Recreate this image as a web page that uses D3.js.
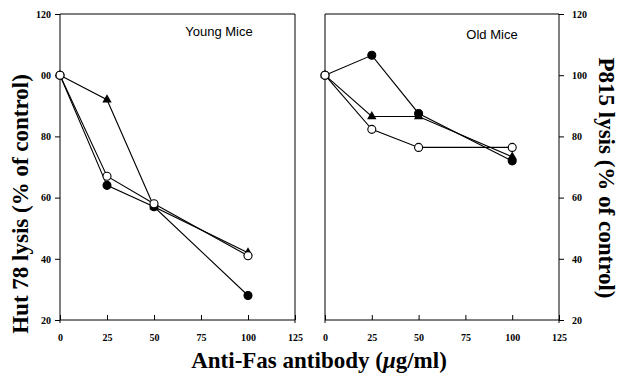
<!DOCTYPE html>
<html><head><meta charset="utf-8">
<script src="https://cdn.jsdelivr.net/npm/d3@7"></script>
<style>
body{margin:0;background:#fff}
.serif{font-family:"Liberation Serif","Times New Roman",Times,"DejaVu Serif",serif;font-weight:bold}
.sans{font-family:"Liberation Sans",Arial,Helvetica,sans-serif}
</style>
</head><body>
<svg id="c" width="627" height="375"></svg>
<script>
const doses = [0, 25, 50, 100];
const youngFilled = [100, 64, 57, 28];
const youngTriangle = [100, 92, 57, 42];
const youngOpen = [100, 67, 58, 41];
const oldFilled = [100, 106.5, 87.5, 72];
const oldTriangle = [100, 86.5, 86.5, 73.3];
const oldOpen = [100, 82.3, 76.4, 76.4];
const xTicks = [0, 25, 50, 75, 100, 125];
const yTicks = [20, 40, 60, 80, 100, 120];
const leftYLabels = ["20", "40", "60", "80", "00", "120"];
const rightYLabels = ["20", "40", "60", "80", "100", "120"];

const svg = d3.select("#c");
const y = d3.scaleLinear().domain([20, 120]).range([320, 14]);
const xL = d3.scaleLinear().domain([0, 125]).range([60, 295]);
const xR = d3.scaleLinear().domain([0, 125]).range([325, 559]);

function panel(x, side, yLabels, series, title, titlePos) {
  const g = svg.append("g");
  const x0 = x.range()[0], x1 = x.range()[1];
  g.append("line").attr("x1", x0).attr("x2", x1).attr("y1", 14).attr("y2", 14).attr("stroke", "#000");
  const frameX = side === "left" ? x1 : x0;
  g.append("line").attr("x1", frameX).attr("x2", frameX).attr("y1", 14).attr("y2", 323).attr("stroke", "#000");
  const xa = g.append("g").attr("transform", "translate(0,320)")
    .call(d3.axisBottom(x).tickValues(xTicks).tickSize(-5).tickPadding(14).tickFormat(d3.format("d")));
  xa.select(".domain").attr("d", `M${x0},0H${x1}`);
  xa.selectAll("text").attr("class", "serif").attr("font-family", null).attr("font-size", 10).attr("fill", "#000");
  xa.selectAll("line").attr("stroke", "#000");
  const axisFn = side === "left" ? d3.axisLeft(y) : d3.axisRight(y);
  const ya = g.append("g").attr("transform", `translate(${side === "left" ? x0 : x1},0)`)
    .call(axisFn.tickValues(yTicks).tickSize(5).tickPadding(side === "left" ? 4 : 8).tickFormat((d, i) => yLabels[i]));
  ya.select(".domain").attr("d", `M0,14V323`);
  ya.selectAll("text").attr("class", "serif").attr("font-size", 10).attr("fill", "#000");
  ya.selectAll("line").attr("stroke", "#000");
  ya.attr("font-family", null); xa.attr("font-family", null);
  const line = d3.line().x((d, i) => x(doses[i])).y(d => y(d));
  series.forEach(s => {
    g.append("path").attr("d", line(s.values)).attr("fill", "none").attr("stroke", "#000").attr("stroke-width", 1.1);
  });
  series.forEach(s => {
    const pts = g.selectAll(null).data(s.values).enter();
    if (s.type === "triangle") {
      pts.append("path").attr("d", d3.symbol(d3.symbolTriangle, 38))
        .attr("transform", (d, i) => `translate(${x(doses[i])},${y(d)})`).attr("fill", "#000");
    } else {
      pts.append("circle").attr("cx", (d, i) => x(doses[i])).attr("cy", d => y(d)).attr("r", 4)
        .attr("fill", s.type === "filled" ? "#000" : "#fff").attr("stroke", "#000").attr("stroke-width", 1.1);
    }
  });
  g.append("text").attr("x", titlePos[0]).attr("y", titlePos[1]).attr("text-anchor", "middle")
    .attr("class", "sans").attr("font-size", 13).text(title);
}

panel(xL, "left", leftYLabels, [
  { type: "triangle", values: youngTriangle },
  { type: "filled", values: youngFilled },
  { type: "open", values: youngOpen }
], "Young Mice", [219, 36]);

panel(xR, "right", rightYLabels, [
  { type: "triangle", values: oldTriangle },
  { type: "filled", values: oldFilled },
  { type: "open", values: oldOpen }
], "Old Mice", [492, 39]);

svg.append("text").attr("transform", "translate(28,204) rotate(-90)").attr("text-anchor", "middle")
  .attr("class", "serif").attr("font-size", 23).text("Hut 78 lysis (% of control)");
svg.append("text").attr("transform", "translate(599,178) rotate(90)").attr("text-anchor", "middle")
  .attr("class", "serif").attr("font-size", 23).text("P815 lysis (% of control)");
const xt = svg.append("text").attr("x", 319).attr("y", 368).attr("text-anchor", "middle")
  .attr("class", "serif").attr("font-size", 23);
xt.append("tspan").text("Anti-Fas antibody (");
xt.append("tspan").attr("font-style", "italic").text("μ");
xt.append("tspan").text("g/ml)");
</script>
</body></html>
